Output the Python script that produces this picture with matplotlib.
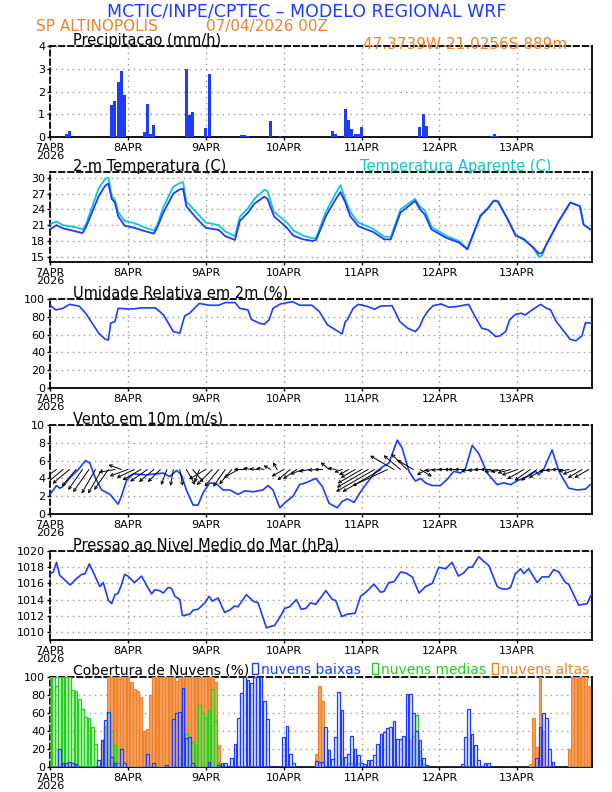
import numpy as np
import matplotlib.pyplot as plt
from matplotlib.patches import Rectangle

# ---- data (hours since 07APR2026 00Z) ----
day_hours = [0, 24, 48, 72, 96, 120, 144]
day_labels = ['7APR\n2026', '8APR', '9APR', '10APR', '11APR', '12APR', '13APR']

prec_h = [5, 6, 8, 19, 20, 21, 22, 23, 29, 30, 31, 32, 36, 42, 43, 44, 48, 49, 59, 60, 61, 68, 71,
          85, 87, 88, 91, 92, 93, 94, 95, 96, 114, 115, 116, 136, 137, 138]
prec_v = [0.15, 0.25, 0.02, 1.4, 1.6, 2.4, 2.9, 1.85, 0.2, 1.45, 0.12, 0.52, 0.02, 3.0, 0.95, 1.1, 0.38, 2.75,
          0.1, 0.1, 0.05, 0.7, 0.05,
          0.02, 0.25, 0.15, 1.24, 0.75, 0.35, 0.15, 0.15, 0.45, 0.45, 1.0, 0.5, 0.05, 0.15, 0.05]

temp_h = [0, 2, 4, 8, 10, 11, 13, 15, 17, 18, 19, 20, 21, 23, 26, 29, 32, 33, 35, 38, 40, 41, 42, 45, 48,
          52, 54, 57, 58.5, 61, 63, 66, 67, 69, 73, 75, 78, 81, 82, 85, 88, 89.5, 91, 92.5, 95, 99.6,
          103, 105, 108, 112.5, 114, 115.5, 117.5, 122, 126, 128.6, 132.6, 134.7, 136.7, 138, 141,
          143.5, 146, 149, 150.6, 151.6, 152.6, 156.8, 160.3, 163.3, 164.4, 166.5]
temp_v = [20.2, 21.0, 20.4, 19.8, 19.5, 20.5, 23.5, 26.5, 28.5, 28.9, 26.0, 25.3, 22.7, 20.9, 20.5, 19.9,
          19.4, 20.5, 23.5, 27.0, 27.8, 27.9, 24.6, 22.4, 20.5, 20.1, 18.9, 18.2, 21.8, 23.4, 25.1, 26.4,
          26.0, 22.7, 20.5, 19.0, 18.3, 18.0, 18.2, 22.7, 25.9, 27.3, 25.3, 22.7, 20.8, 19.7, 18.3, 18.3,
          23.4, 25.6, 24.0, 23.0, 20.2, 18.6, 17.7, 16.4, 22.7, 24.0, 25.6, 25.5, 22.1, 19.0, 18.3, 16.7,
          15.6, 15.7, 16.9, 21.8, 25.3, 24.6, 21.1, 20.2]
tapp_v = [21.2, 21.7, 21.0, 20.6, 20.2, 21.0, 24.5, 28.0, 29.8, 30.0, 26.5, 25.8, 23.5, 21.8, 21.4, 20.6,
          20.0, 21.0, 24.5, 28.3, 29.0, 29.2, 25.5, 23.5, 21.5, 21.0, 19.8, 18.9, 22.6, 24.2, 26.0, 27.7,
          27.5, 23.5, 21.5, 20.0, 19.0, 18.5, 18.6, 23.5, 27.0, 28.6, 25.9, 23.5, 21.5, 20.3, 18.8, 18.8,
          24.0, 26.0, 24.5, 23.8, 20.7, 19.0, 18.0, 16.5, 22.9, 24.1, 25.7, 25.6, 22.2, 19.1, 18.4, 16.6,
          15.0, 15.2, 16.9, 21.8, 25.3, 24.6, 21.1, 20.2]

rh_h = [0, 1.8, 4, 6, 9, 11, 13, 15, 17, 18, 18.7, 20, 21, 24, 26, 28, 32.5, 35, 38, 40, 41.5, 43, 46, 49,
        52, 54, 57, 58.5, 61, 62, 64.5, 66, 67.5, 68.7, 71, 74.7, 77, 80.7, 83, 85.5, 88, 90, 91, 91.6,
        93.4, 95, 98, 100, 101.8, 105.4, 107.8, 110.2, 112.6, 113.9, 115, 116.3, 118, 120.5, 123, 125,
        129, 130.7, 133, 135, 137.3, 138.6, 140.4, 141.6, 143.4, 145.2, 146.4, 148.8, 151.2, 153, 154.2,
        156, 158.4, 160.2, 162, 163.9, 165, 166.9]
rh_v = [93, 87.7, 89.5, 94, 92, 84, 72.8, 61.6, 54.9, 54, 72.8, 74.6, 89.5, 88.8, 89, 90, 90, 82, 63.4,
        61.6, 81, 84, 95, 93, 93, 96, 96, 89.5, 87.7, 77.2, 72.8, 71.6, 76.5, 89.5, 94.4, 97, 93, 93, 85.8,
        70.9, 65.3, 60.8, 74.6, 76.5, 89.5, 94, 91.4, 88.4, 92, 92.5, 74.6, 67.2, 63.4, 69, 78.4, 85.8,
        92.5, 94.4, 90.7, 91.4, 94, 82, 67.2, 65.3, 57.8, 58.5, 63.4, 76.5, 82.8, 84, 82, 88.4, 94, 89.5,
        88, 74.6, 63.4, 54.9, 53, 58.6, 73.5, 72.8]

wspd_h = [0, 2, 3, 4, 6, 8.7, 11, 12.3, 13.8, 15.9, 18.5, 21, 22, 23.6, 25.6, 29.7, 34.9, 36.9, 39, 40.5,
          42, 44.1, 45.6, 47.2, 49.2, 51.3, 53.3, 55.4, 58, 60, 62.6, 65.6, 67.2, 68.7, 70.8, 72.8, 74.9,
          76.9, 78.8, 81.9, 83.9, 86, 88.5, 90, 91.6, 93.7, 95.7, 98.3, 100.3, 102.9, 104.4, 107, 108.5,
          110.6, 112.6, 114.2, 115.7, 117.8, 120.3, 122.4, 124.4, 126.5, 128, 130.1, 132.1, 134.7, 137.8,
          139.8, 141.9, 144.4, 147, 149.6, 150.6, 152.1, 154.7, 156.8, 159.8, 162.4, 165, 166.5]
wspd_v = [2.2, 3.2, 2.9, 3.1, 4.0, 5.0, 6.0, 5.7, 4.2, 2.7, 2.2, 1.1, 2.0, 3.8, 4.5, 4.4, 4.6, 4.2, 4.9, 4.4,
          2.7, 1.0, 1.0, 2.4, 3.5, 3.4, 2.7, 2.7, 2.2, 2.6, 2.5, 2.7, 3.2, 2.7, 0.7, 1.4, 2.0, 3.3, 3.5,
          4.0, 3.1, 1.2, 0.7, 1.4, 1.7, 1.3, 2.5, 3.8, 4.7, 5.4, 5.7, 8.3, 7.4, 4.8, 3.7, 4.0, 3.5, 3.2,
          3.2, 3.9, 4.8, 4.6, 5.1, 7.7, 6.8, 4.6, 3.3, 3.5, 3.3, 3.8, 4.2, 4.8, 4.4, 5.0, 7.2, 4.8, 2.9,
          2.7, 2.8, 3.3]

# wind vectors every 2 h: direction the wind blows from (deg) and vector magnitude
vec_h = list(range(0, 168, 2))
vec_dir = [55, 55, 50, 50, 40, 35, 35, 30, 30, 35, 80, 110, 70, 65, 60, 55, 50, 45, 20, 10, 350, 330, 320,
           20, 60, 45, 40, 35, 40, 60, 90, 100, 95, 100, 120, 150, 60, 50, 55, 70, 80, 85, 90, 130, 100,
           70, 60, 60, 60, 60, 60, 60, 65, 120, 130, 135, 120, 300, 60, 80, 85, 90, 90, 90, 90, 80, 85,
           90, 90, 80, 80, 75, 70, 60, 55, 55, 60, 80, 85, 90, 80, 70, 60, 60]
vec_spd = [3.5, 3.5, 3.8, 4.0, 4.0, 4.5, 5.0, 5.0, 5.0, 4.5, 3.0, 2.5, 3.5, 3.5, 3.8, 3.8, 3.5, 3.2, 3.0,
           3.0, 3.0, 3.2, 3.0, 2.5, 3.5, 4.0, 4.0, 3.8, 3.5, 3.0, 2.0, 1.5, 1.5, 1.5, 1.5, 1.5, 2.5, 3.0,
           3.0, 2.5, 2.0, 1.5, 1.5, 2.0, 1.5, 1.5, 2.0, 3.0, 5.0, 6.5, 8.0, 8.0, 7.0, 5.0, 4.0, 4.0, 3.5,
           2.5, 2.0, 1.5, 1.5, 1.5, 1.5, 2.0, 2.0, 2.0, 2.0, 2.0, 2.0, 2.5, 2.5, 2.5, 3.0, 3.5, 3.5, 3.5,
           3.0, 2.0, 2.0, 2.0, 2.0, 2.5, 3.0, 3.0]

pres_h = [0, 1, 2, 3, 4.6, 6.2, 8.2, 9.7, 10.8, 12.1, 13.3, 14.9, 15.4, 16.4, 18, 19, 20, 21, 22, 23, 24, 26,
          28.2, 29.7, 31.3, 32.3, 33.8, 34.9, 36.4, 37.4, 38.5, 40, 40.8, 42, 43.1, 44.1, 45.6, 46.7, 47.7,
          49, 50, 51.8, 53.8, 55.4, 56.9, 57.9, 60.5, 62.6, 64.1, 66.7, 68.2, 69.2, 70.8, 72.3, 73.8, 75.9,
          77.4, 78.8, 80.3, 81.9, 85, 87, 88, 89.9, 91.6, 94, 95.7, 97.3, 99.8, 101.9, 102.9, 104.4, 106,
          108, 109.6, 111.6, 113.7, 115.7, 117.8, 119.8, 121.9, 123.9, 125.8, 127.5, 129, 130.1, 132.1,
          133.7, 135.2, 137.8, 139.3, 140.9, 141.9, 143.4, 145, 146, 147.5, 150.1, 151.6, 153.7, 155.2,
          156.8, 158.8, 159.8, 162.9, 165.5, 166.8]
pres_v = [1017.2, 1017.4, 1018.6, 1017.0, 1016.4, 1015.8, 1016.6, 1017.1, 1017.2, 1018.4, 1017.4, 1016.0,
          1015.6, 1016.1, 1013.9, 1013.5, 1014.6, 1014.8, 1015.8, 1017.1, 1016.9, 1016.1, 1016.9, 1015.8,
          1014.7, 1015.2, 1015.1, 1014.8, 1015.5, 1015.4, 1014.4, 1014.0, 1012.0, 1012.1, 1012.2, 1012.7,
          1012.8, 1013.2, 1013.6, 1014.4, 1013.8, 1014.2, 1012.4, 1012.7, 1013.2, 1013.1, 1014.6, 1013.8,
          1013.6, 1010.5, 1010.7, 1010.8, 1011.8, 1012.9, 1013.1, 1014.0, 1012.8, 1012.9, 1013.6, 1013.4,
          1015.1, 1014.0, 1013.9, 1011.9, 1012.2, 1012.3, 1014.4, 1014.9, 1015.9, 1014.9, 1015.0, 1016.1,
          1016.2, 1017.4, 1017.3, 1016.8, 1014.8, 1015.6, 1016.0, 1018.0, 1017.8, 1018.6, 1016.9, 1017.3,
          1018.0, 1018.0, 1019.3, 1018.7, 1018.2, 1015.6, 1015.3, 1015.3, 1015.5, 1017.2, 1017.8, 1017.2,
          1017.8, 1016.1, 1016.8, 1016.8, 1017.7, 1017.4, 1016.1, 1015.9, 1013.3, 1013.5, 1014.6]

# cloud cover (%), hours with nonzero values
low_h = [3, 4, 5, 6, 7, 8, 15, 16, 17, 18, 19, 20, 22, 23, 30, 32, 36, 38, 39, 40, 41, 42, 43, 44, 49, 52,
         53, 54, 56, 57, 58, 59, 60, 61, 62, 63, 64, 65, 66, 67, 68, 72, 73, 74, 75,
         82, 83, 84, 85, 86, 87, 88, 89, 90, 91, 92, 93, 94, 95, 96, 97, 98, 99, 100, 101, 102, 103, 104,
         105, 106, 107, 108, 109, 110, 111, 112, 113, 114, 115, 116, 127, 128, 129, 130, 131, 132, 133,
         134, 135, 150, 151, 152, 153, 154, 155]
low_v = [20, 5, 5, 6, 5, 3, 8, 30, 52, 61, 11, 4, 20, 5, 15, 4, 2, 53, 60, 61, 88, 32, 33, 5, 6, 2,
         5, 5, 10, 26, 54, 82, 100, 97, 93, 100, 100, 100, 73, 53, 1, 33, 46, 15, 4,
         7, 6, 6, 44, 19, 9, 33, 83, 63, 11, 14, 35, 20, 13, 4, 3, 8, 8, 13, 26, 37, 39, 43,
         45, 51, 31, 31, 35, 81, 81, 60, 40, 30, 10, 2, 3, 33, 64, 37, 24, 8, 1,
         4, 5, 10, 45, 60, 54, 20, 6]
mid_h = [0, 1, 2, 3, 4, 5, 6, 7, 8, 9, 10, 11, 12, 13, 14, 17, 18, 19, 20, 21, 40, 41, 42, 43, 44, 45, 46,
         47, 48, 49, 50, 51, 52, 90, 92, 93, 94, 95, 111, 112, 113, 114, 115]
mid_v = [100, 100, 90, 100, 100, 100, 100, 86, 84, 76, 64, 56, 55, 44, 26, 45, 60, 40, 25, 5, 10, 33, 37,
         28, 28, 24, 69, 60, 55, 63, 87, 51, 5, 10, 4, 4, 4, 4, 20, 35, 58, 18, 3]
high_h = [16, 17, 18, 19, 20, 21, 22, 23, 24, 25, 26, 27, 28, 29, 30, 31, 32, 33, 34, 35, 36, 37, 38, 39,
          40, 41, 42, 43, 44, 45, 46, 47, 48, 49, 50, 51, 52, 82, 83, 84, 111, 148, 149, 150, 151, 152,
          160, 161, 162, 163, 164, 165, 166]
high_v = [30, 47, 100, 100, 100, 100, 100, 100, 100, 95, 87, 85, 78, 40, 42, 80, 100, 100, 100, 100, 100,
          100, 100, 96, 100, 100, 100, 100, 100, 100, 100, 100, 100, 100, 100, 95, 25, 15, 90, 73, 30, 3,
          55, 22, 100, 40, 20, 100, 100, 100, 100, 100, 90]

# ---- styling ----
BLUE = '#1e3cff'
CYAN = '#10c8c8'
ORANGE = '#f0822a'
GREEN = '#1ed21e'
W, H = 612, 792
XL, XR = 50, 592

fig = plt.figure(figsize=(6.12, 7.92), dpi=100)


def fx(px):
    return px / W


def fy(py):
    return 1 - py / H


def panel(top, bottom, ylim, yticks):
    ax = fig.add_axes([fx(XL), fy(bottom), fx(XR) - fx(XL), fy(top) - fy(bottom)])
    ax.set_xlim(0, 167)
    ax.set_ylim(*ylim)
    ax.set_xticks(day_hours)
    ax.set_xticklabels(day_labels)
    ax.set_yticks(yticks)
    ax.grid(True, color='#9a9a9a', ls=(0, (1, 3)), lw=1)
    ax.set_axisbelow(True)
    ax.tick_params(labelsize=8, length=2, width=1, direction='out')
    ax.tick_params(axis='x', pad=2)
    ax.tick_params(axis='y', pad=1.5)
    for lab in ax.get_xticklabels():
        lab.set_linespacing(0.8)
    for s in ['top', 'left']:
        ax.spines[s].set_linestyle((0, (3, 2)))
    for s in ax.spines.values():
        s.set_linewidth(1.3)
    return ax


def ptitle(px, py, txt, color='black', size=10.5):
    fig.text(fx(px), fy(py), txt, color=color, fontsize=size, ha='left', va='baseline')


# header
fig.text(fx(307), fy(16), 'MCTIC/INPE/CPTEC \u2013 MODELO REGIONAL WRF', color=BLUE, fontsize=12.5,
         ha='center', va='baseline')
fig.text(fx(36), fy(31), 'SP ALTINOPOLIS', color=ORANGE, fontsize=11, va='baseline')
fig.text(fx(206), fy(31), '07/04/2026 00Z', color=ORANGE, fontsize=11, va='baseline')
fig.text(fx(363), fy(49), '47.3739W 21.0256S 889m', color=ORANGE, fontsize=11, va='baseline')

# precipitation
ax1 = panel(46, 137, (0, 4), [0, 1, 2, 3, 4])
ax1.bar(prec_h, prec_v, width=0.92, color=BLUE, zorder=3)
ptitle(73, 45, 'Precipitacao (mm/h)')

# temperature
ax2 = panel(172, 262, (14, 31.1), [15, 18, 21, 24, 27, 30])
ax2.plot(temp_h, tapp_v, color=CYAN, lw=1.3, zorder=3)
ax2.plot(temp_h, temp_v, color=BLUE, lw=1.3, zorder=4)
ptitle(73, 171, '2-m Temperatura (C)')
ptitle(360, 171, 'Temperatura Aparente (C)', color=CYAN)

# relative humidity
ax3 = panel(299, 388, (0, 100), [0, 20, 40, 60, 80, 100])
ax3.plot(rh_h, rh_v, color=BLUE, lw=1.2, zorder=3)
ptitle(73, 297, 'Umidade Relativa em 2m (%)')

# wind
ax4 = panel(425, 514, (0, 10), [0, 2, 4, 6, 8, 10])
ax4.plot(wspd_h, wspd_v, color=BLUE, lw=1.2, zorder=3)
d = np.radians(np.array(vec_dir))
s = np.array(vec_spd)
u = -s * np.sin(d)
v = -s * np.cos(d)
for h, du, dv in zip(vec_h, u, v):
    # line arrows with open heads, tail on the 5 m/s line, 4 pt per unit
    ann = ax4.annotate('', xy=(h, 5), xycoords='data', xytext=(du * 4, dv * 4), textcoords='offset points',
                       arrowprops=dict(arrowstyle='<-', lw=0.7, color='black', shrinkA=0, shrinkB=0,
                                       mutation_scale=5), zorder=4)
    ann.arrow_patch.set_clip_path(ax4.patch)
ptitle(73, 423, 'Vento em 10m (m/s)')

# pressure
ax5 = panel(551, 640, (1009, 1020), [1010, 1012, 1014, 1016, 1018, 1020])
ax5.plot(pres_h, pres_v, color=BLUE, lw=1.2, zorder=3)
ptitle(73, 549, 'Pressao ao Nivel Medio do Mar (hPa)')

# clouds
ax6 = panel(677, 767, (0, 100), [0, 20, 40, 60, 80, 100])
hours = np.arange(168)
low = np.zeros(168)
mid = np.zeros(168)
high = np.zeros(168)
low[low_h] = low_v
mid[mid_h] = mid_v
high[high_h] = high_v
ax6.bar(hours, high, width=0.85, color='#f5a060', edgecolor=ORANGE, lw=0.8, zorder=3)
ax6.bar(hours, mid, width=0.85, color=(0.55, 0.9, 0.45, 0.45), edgecolor=GREEN, lw=0.9, zorder=4)
ax6.bar(hours, low, width=0.85, color=(0.75, 0.8, 1.0, 0.35), edgecolor=BLUE, lw=0.9, zorder=5)
ptitle(73, 674, 'Cobertura de Nuvens (%)', size=10)
for rx, col, txt in [(252, BLUE, 'nuvens baixas'), (372, GREEN, 'nuvens medias'), (492, ORANGE, 'nuvens altas')]:
    fig.add_artist(Rectangle((fx(rx), fy(674)), 6 / W, 11 / H, transform=fig.transFigure,
                             fill=False, edgecolor=col, lw=1))
    ptitle(rx + 9, 674, txt, color=col, size=10)

fig.savefig('out.png', dpi=100)
